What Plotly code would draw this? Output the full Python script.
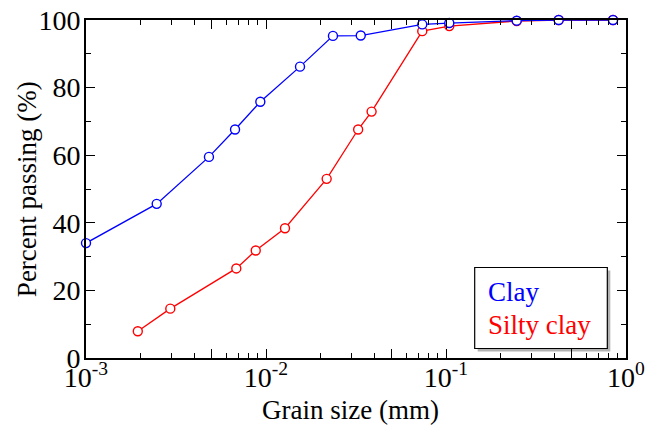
import plotly.graph_objects as go

clay_size = [0.001, 0.00247, 0.00482, 0.00673, 0.0093, 0.01545, 0.02355, 0.0336, 0.0738, 0.1043, 0.247, 0.4226, 0.847]
clay_pass = [34.0, 45.6, 59.5, 67.6, 75.8, 86.2, 95.3, 95.4, 98.7, 99.1, 99.8, 100.0, 100.0]
silty_size = [0.00194, 0.00294, 0.00684, 0.00877, 0.01275, 0.02173, 0.0325, 0.0386, 0.0738, 0.1043, 0.247, 0.4226, 0.847]
silty_pass = [7.9, 14.6, 26.5, 31.8, 38.4, 53.0, 67.6, 72.9, 96.7, 98.2, 99.7, 100.0, 100.0]

x_major_vals = [0.001, 0.005, 0.01, 0.05, 0.1, 0.5, 1]
x_major_text = ["10<sup>-3</sup>", "", "10<sup>-2</sup>", "", "10<sup>-1</sup>", "", "10<sup>0</sup>"]
x_minor_vals = [m * d for d in [0.001, 0.01, 0.1] for m in [2, 3, 4, 6, 7, 8, 9]]
y_major_vals = [0, 20, 40, 60, 80, 100]
y_minor_vals = [10, 30, 50, 70, 90]

series_names = ["Clay", "Silty clay"]
series_colors = ["#0000ff", "#ff0000"]

FONT = "Liberation Serif"

fig = go.Figure()
fig.add_trace(go.Scatter(
    x=silty_size, y=silty_pass, mode="lines+markers", name=series_names[1],
    line=dict(color=series_colors[1], width=1.3),
    marker=dict(symbol="circle", size=9, color="white", line=dict(color=series_colors[1], width=1.4)),
    cliponaxis=False,
))
fig.add_trace(go.Scatter(
    x=clay_size, y=clay_pass, mode="lines+markers", name=series_names[0],
    line=dict(color=series_colors[0], width=1.3),
    marker=dict(symbol="circle", size=9, color="white", line=dict(color=series_colors[0], width=1.4)),
    cliponaxis=False,
))

fig.update_layout(
    width=666, height=425,
    margin=dict(l=86, r=40, t=20, b=67),
    paper_bgcolor="white", plot_bgcolor="white",
    showlegend=False,
    font=dict(family=FONT, size=27, color="black"),
    xaxis=dict(
        type="log", range=[-3, 0], automargin=False,
        tickmode="array", tickvals=x_major_vals, ticktext=x_major_text,
        ticks="inside", ticklen=9, tickwidth=1.3, tickcolor="black",
        minor=dict(tickmode="array", tickvals=x_minor_vals, ticks="inside", ticklen=5, tickwidth=1.3, tickcolor="black", showgrid=False),
        showline=True, linecolor="black", linewidth=1.8, mirror="ticks",
        showgrid=False, zeroline=False, ticklabelstandoff=-7,
        tickfont=dict(family=FONT, size=28, color="black"),
    ),
    yaxis=dict(
        range=[0, 100], automargin=False,
        tickmode="array", tickvals=y_major_vals,
        ticks="inside", ticklen=9, tickwidth=1.3, tickcolor="black",
        minor=dict(tickmode="array", tickvals=y_minor_vals, ticks="inside", ticklen=5, tickwidth=1.3, tickcolor="black", showgrid=False),
        showline=True, linecolor="black", linewidth=1.8, mirror="ticks",
        showgrid=False, zeroline=False, ticklabelstandoff=-2,
        tickfont=dict(family=FONT, size=28, color="black"),
    ),
)

# axis titles
fig.add_annotation(text="Grain size (mm)", xref="paper", yref="paper", x=0.49, y=-0.155,
                   xanchor="center", yanchor="middle", showarrow=False,
                   font=dict(family=FONT, size=27, color="black"))
fig.add_annotation(text="Percent passing (%)", xref="paper", yref="paper", x=-0.109, y=0.5,
                   xanchor="center", yanchor="middle", showarrow=False, textangle=-90,
                   font=dict(family=FONT, size=27, color="black"))

# legend box with shadow
bx0, bx1, by0, by1 = 0.7198, 0.9654, 0.0281, 0.2678
dx, dy = 3 / 540, 3 / 338
fig.add_shape(type="rect", xref="paper", yref="paper", x0=bx0 + dx, x1=bx1 + dx, y0=by0 - dy, y1=by1 - dy,
              fillcolor="rgba(0,0,0,0.3)", line=dict(width=0), layer="above")
fig.add_shape(type="rect", xref="paper", yref="paper", x0=bx0, x1=bx1, y0=by0, y1=by1,
              fillcolor="white", line=dict(color="black", width=1.2), layer="above")
fig.add_annotation(text=series_names[0], xref="paper", yref="paper", x=0.74, y=(357.5 - 291) / 338,
                   xanchor="left", yanchor="middle", showarrow=False,
                   font=dict(family=FONT, size=27, color=series_colors[0]))
fig.add_annotation(text=series_names[1], xref="paper", yref="paper", x=0.74, y=(357.5 - 324) / 338,
                   xanchor="left", yanchor="middle", showarrow=False,
                   font=dict(family=FONT, size=27, color=series_colors[1]))

fig.write_html("out.html")
